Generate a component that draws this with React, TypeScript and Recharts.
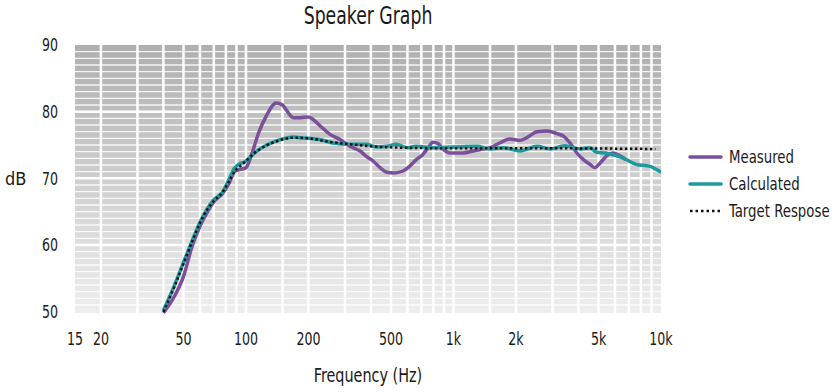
import React from 'react';
import { LineChart, Line, XAxis, YAxis, CartesianGrid, Legend, Label } from 'recharts';

// ---- data ----
const measuredFreq = [40, 45, 50, 55, 60, 65, 70, 77, 83, 88, 93, 100, 107, 115, 125, 140, 150, 156, 169, 183, 199, 229, 254, 285, 317, 355, 380, 410, 443, 477, 515, 571, 614, 662, 713, 755, 797, 843, 891, 962, 1111, 1245, 1340, 1500, 1670, 1865, 2094, 2260, 2530, 2830, 3160, 3400, 3645, 3930, 4230, 4550, 4800, 5090, 5480, 5870, 6300, 6780];
const measuredDb = [49.8, 52.2, 55.3, 59.8, 62.8, 64.9, 66.5, 67.7, 69.3, 71.0, 71.3, 71.6, 73.8, 76.8, 79.3, 81.3, 81.0, 80.3, 79.1, 79.1, 79.2, 77.8, 76.6, 75.8, 74.8, 74.1, 73.3, 72.6, 71.6, 70.9, 70.8, 71.1, 71.8, 72.8, 73.6, 74.6, 75.4, 75.2, 74.4, 73.8, 73.8, 74.1, 74.3, 74.6, 75.3, 75.9, 75.7, 76.1, 77.0, 77.1, 76.7, 76.3, 75.3, 73.8, 72.8, 72.1, 71.6, 72.3, 73.4, 73.8, 73.4, 72.8];

const calculatedFreq = [40, 45, 50, 55, 60, 65, 70, 77, 83, 88, 93, 98, 105, 113, 126, 146, 170, 183, 229, 263, 317, 380, 425, 477, 530, 600, 660, 797, 1000, 1300, 1500, 1740, 2094, 2530, 2920, 3430, 4100, 4550, 4900, 5400, 6500, 7600, 8860, 10000];
const calculatedDb = [50.2, 53.8, 57.4, 60.6, 63.4, 65.4, 66.8, 67.9, 69.9, 71.5, 72.2, 72.4, 73.2, 74.1, 75.0, 75.8, 76.2, 76.1, 75.8, 75.3, 75.1, 75.1, 74.7, 74.8, 75.1, 74.6, 74.8, 74.6, 74.7, 74.8, 74.4, 74.6, 74.1, 74.8, 74.4, 74.9, 74.4, 74.6, 73.9, 73.8, 73.1, 72.1, 71.8, 70.9];

const targetFreq = [40, 45, 50, 55, 60, 65, 70, 77, 83, 88, 95, 100, 110, 125, 145, 170, 200, 250, 320, 400, 550, 1000, 3000, 9400];
const targetDb = [50, 53.6, 57.2, 60.5, 63.3, 65.3, 66.6, 67.9, 69.6, 71.0, 72.0, 72.6, 73.8, 74.9, 75.7, 76.1, 76.0, 75.5, 75.1, 74.8, 74.6, 74.5, 74.5, 74.4];

const xTicks = [15, 20, 50, 100, 200, 500, 1000, 2000, 5000, 10000];
const yTicks = [50, 60, 70, 80, 90];
const xGrid = [20, 30, 40, 50, 60, 70, 80, 90, 100, 150, 200, 300, 400, 500, 600, 700, 800, 900, 1000, 1500, 2000, 3000, 4000, 5000, 6000, 7000, 8000, 9000];
const yMinorGrid = [51, 52, 53, 54, 55, 56, 57, 58, 59, 61, 62, 63, 64, 65, 66, 67, 68, 69, 71, 72, 73, 74, 75, 76, 77, 78, 79, 81, 82, 83, 84, 85, 86, 87, 88, 89];
const yMajorGrid = [60, 70, 80];

const seriesNames = ['Measured', 'Calculated', 'Target Respose'];

const toRows = (f: number[], v: number[]) => f.map((x, i) => ({ f: x, v: v[i] }));
const measured = toRows(measuredFreq, measuredDb);
const calculated = toRows(calculatedFreq, calculatedDb);
const target = toRows(targetFreq, targetDb);

const FONT = '"DejaVu Sans Condensed", "DejaVu Sans", sans-serif';
const TXT = '#1a1a1a';
const PURPLE = '#7b4f99';
const TEAL = '#1d9aa0';
const SQ = 0.8; // horizontal squeeze to mimic a condensed face

const fmtX = (v: number) => (v >= 1000 ? `${v / 1000}k` : `${v}`);

const XTick = (props: any) => {
  const { x, y, payload } = props;
  return (
    <text transform={`translate(${x},${y}) scale(${SQ},1)`} textAnchor="middle" dy="0.71em" fill={TXT} fontSize={17.5} fontFamily={FONT}>
      {fmtX(payload.value)}
    </text>
  );
};

const YTick = (props: any) => {
  const { x, y, payload } = props;
  return (
    <text transform={`translate(${x},${y}) scale(${SQ},1)`} textAnchor="end" dy="0.355em" fill={TXT} fontSize={17.5} fontFamily={FONT}>
      {payload.value}
    </text>
  );
};

const XLabel = (props: any) => {
  const vb = props.viewBox || {};
  const cx = vb.x + vb.width / 2;
  const cy = vb.y + vb.height + 22;
  return (
    <text transform={`translate(${cx},${cy}) scale(${SQ},1)`} textAnchor="middle" dy="0.355em" fill={TXT} fontSize={20} fontFamily={FONT}>
      Frequency (Hz)
    </text>
  );
};

const LegendContent = () => {
  const items = [
    { name: seriesNames[0], color: PURPLE, dash: undefined as string | undefined, w: 3.5 },
    { name: seriesNames[1], color: TEAL, dash: undefined, w: 3.5 },
    { name: seriesNames[2], color: '#111', dash: '2.5 3', w: 2.5 },
  ];
  return (
    <div style={{ fontFamily: FONT, fontSize: 18.5, color: TXT }}>
      {items.map((it) => (
        <div key={it.name} style={{ display: 'flex', alignItems: 'center', height: 27, whiteSpace: 'nowrap' }}>
          <svg width={38} height={10} style={{ marginRight: 3, flex: 'none' }}>
            <line x1={2} x2={33} y1={5} y2={5} stroke={it.color} strokeWidth={it.w} strokeDasharray={it.dash} strokeLinecap={it.dash ? 'butt' : 'round'} />
          </svg>
          <span style={{ display: 'inline-block', transform: `scaleX(${SQ})`, transformOrigin: 'left center' }}>{it.name}</span>
        </div>
      ))}
    </div>
  );
};

export default function App() {
  return (
    <div style={{ position: 'absolute', left: 0, top: 0, width: 840, height: 392, background: '#fff' }}>
      <div style={{ position: 'absolute', left: 218, width: 300, top: 2, textAlign: 'center', fontFamily: FONT, fontSize: 24, color: TXT, transform: `scaleX(${SQ})`, transformOrigin: 'center' }}>
        Speaker Graph
      </div>
      <LineChart width={840} height={392} margin={{ top: 45, right: 179, bottom: 39, left: 0 }}>
        <defs>
          <linearGradient id="bgGrad" x1="0" y1="0" x2="0" y2="1">
            <stop offset="0%" stopColor="#afafaf" />
            <stop offset="100%" stopColor="#eeeeee" />
          </linearGradient>
        </defs>
        <CartesianGrid
          fill="url(#bgGrad)"
          fillOpacity={1}
          stroke="#ffffff"
          strokeWidth={1.3}
          strokeOpacity={0.85}
          horizontalValues={yMinorGrid}
          vertical={false}
          syncWithTicks={false}
        />
        <CartesianGrid
          stroke="#ffffff"
          strokeWidth={2.5}
          horizontalValues={yMajorGrid}
          verticalValues={xGrid}
        />
        <XAxis
          dataKey="f"
          type="number"
          scale="log"
          domain={[15, 10000]}
          allowDataOverflow
          ticks={xTicks}
          interval={0}
          tickFormatter={fmtX}
          axisLine={false}
          tickLine={false}
          tickSize={0}
          tickMargin={20}
          height={40}
          tick={<XTick />}
        >
          <Label content={<XLabel />} />
        </XAxis>
        <YAxis
          type="number"
          domain={[50, 90]}
          ticks={yTicks}
          interval={0}
          axisLine={false}
          tickLine={false}
          tickSize={0}
          tickMargin={17}
          width={75}
          tick={<YTick />}
          label={{ value: 'dB', position: 'insideLeft', offset: 5, fill: TXT, fontSize: 18, fontFamily: FONT }}
        />
        <Legend
          layout="vertical"
          verticalAlign="middle"
          align="center"
          content={<LegendContent />}
          wrapperStyle={{ position: 'absolute', left: 688, top: 143, width: 152 }}
        />
        <Line data={measured} dataKey="v" name={seriesNames[0]} type="monotone" stroke={PURPLE} strokeWidth={3.5} dot={false} activeDot={false} isAnimationActive={false} />
        <Line data={calculated} dataKey="v" name={seriesNames[1]} type="monotone" stroke={TEAL} strokeWidth={3.5} dot={false} activeDot={false} isAnimationActive={false} />
        <Line data={target} dataKey="v" name={seriesNames[2]} type="monotone" stroke="#111" strokeWidth={2.5} strokeDasharray="2.5 2.5" dot={false} activeDot={false} isAnimationActive={false} />
      </LineChart>
    </div>
  );
}
